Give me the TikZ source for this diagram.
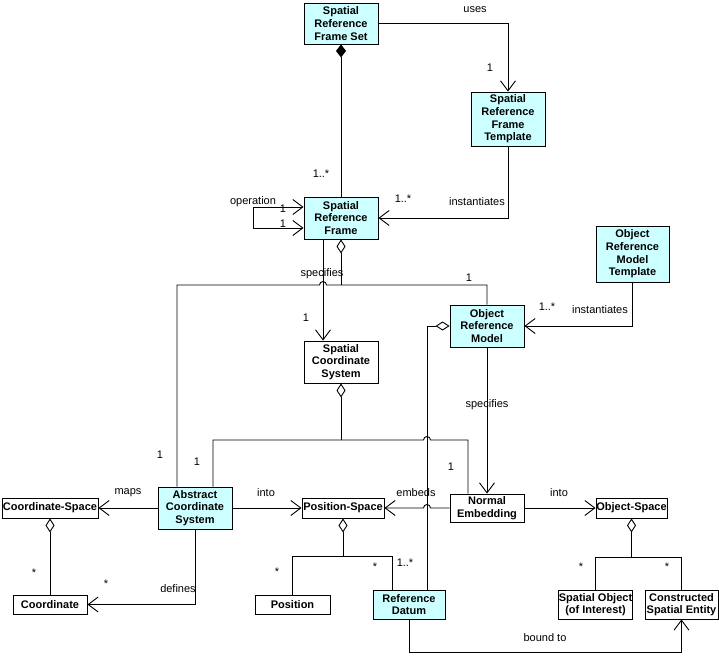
\documentclass[tikz,border=0pt]{standalone}
\usepackage{fontspec}
\setmainfont{Liberation Sans}
\usetikzlibrary{arrows.meta}
\definecolor{boxcyan}{RGB}{204,255,255}
\tikzset{
  vtip/.tip={Straight Barb[length=10pt,width=15pt]},
  cls/.style={draw, line width=0.9pt, inner sep=0pt, align=center, font=\fontsize{11}{12.7}\selectfont\bfseries},
  hi/.style={cls, fill=boxcyan},
  lbl/.style={inner sep=0pt, font=\fontsize{11}{12.7}\selectfont},
  arr/.style={-vtip},
  both/.style={vtip-vtip},
  odia/.style={{Diamond[fill=white,length=14pt,width=9pt]}-},
  fdia/.style={{Diamond[length=13pt,width=10pt]}-},
}
\begin{document}
\begin{tikzpicture}[x=1pt,y=-1pt,line width=0.9pt]
\useasboundingbox (0,0) rectangle (719,655);
% classes
\node[hi, minimum width=74pt, minimum height=41pt] (srfs) at (341,23.5) {Spatial\\Reference\\Frame Set};
\node[hi, minimum width=74pt, minimum height=54pt] (srft) at (508,119) {Spatial\\Reference\\Frame\\Template};
\node[hi, minimum width=74pt, minimum height=42pt] (srf) at (341,218) {Spatial\\Reference\\Frame};
\node[hi, minimum width=73pt, minimum height=56pt] (ormt) at (632.5,254) {Object\\Reference\\Model\\Template};
\node[hi, minimum width=74pt, minimum height=42pt] (orm) at (487,326) {Object\\Reference\\Model};
\node[cls, minimum width=74pt, minimum height=42pt] (scs) at (341,362) {Spatial\\Coordinate\\System};
\node[hi, minimum width=74pt, minimum height=42pt] (acs) at (195,508) {Abstract\\Coordinate\\System};
\node[cls, minimum width=96pt, minimum height=20pt] (cspace) at (50,508) {Coordinate-Space};
\node[cls, minimum width=74pt, minimum height=19pt] (coord) at (50,604.5) {Coordinate};
\node[cls, minimum width=82pt, minimum height=20pt] (pspace) at (343,508) {Position-Space};
\node[cls, minimum width=75pt, minimum height=19pt] (position) at (292.5,604.5) {Position};
\node[cls, minimum width=74pt, minimum height=28pt] (ne) at (487,508) {Normal\\Embedding};
\node[cls, minimum width=71pt, minimum height=20pt] (ospace) at (631.5,508) {Object-Space};
\node[hi, minimum width=72pt, minimum height=29pt] (rd) at (409,604.5) {Reference\\Datum};
\node[cls, minimum width=73pt, minimum height=29pt] (soi) at (595.5,604.5) {Spatial Object\\(of Interest)};
\node[cls, minimum width=73pt, minimum height=29pt] (cse) at (681.5,604.5) {Constructed\\Spatial Entity};
% connectors
\draw[fdia] (srfs.south) -- (srf.north);
\draw[arr] (srfs.east) -| (srft.north);
\draw[arr] (srft.south) |- (srf.east);
\draw[both] ([yshift=11pt]srf.west) -- (253,207) -- (253,228) -- ([yshift=-10pt]srf.west);
\draw[arr] ([xshift=-18pt]srf.south) -- ([xshift=-18pt]scs.north);
\draw[odia] (srf.south) -- (341,285);
\draw ([xshift=-18pt]acs.north) |- (319.5,285) arc[start angle=180,end angle=0,radius=3.5pt] -| (orm.north);
\draw[odia] (scs.south) -- (341,440);
\draw ([xshift=18pt]acs.north) |- (423.5,440) arc[start angle=180,end angle=0,radius=3.5pt] -| ([xshift=-19pt]ne.north);
\draw[odia] (orm.west) -| ([xshift=18pt]rd.north);
\draw[arr] (orm.south) -- (ne.north);
\draw[arr] (ormt.south) |- (orm.east);
\draw[arr] (acs.west) -- (cspace.east);
\draw[arr] (acs.east) -- (pspace.west);
\draw[arr] (acs.south) |- (coord.east);
\draw[odia] (cspace.south) -- (coord.north);
\draw[arr] (ne.west) -- (430.5,508) arc[start angle=0,end angle=180,radius=3.5pt] -- (pspace.east);
\draw[arr] (ne.east) -- (ospace.west);
\draw[odia] (pspace.south) -- (343,556);
\draw (position.north) |- (392,556) -- ([xshift=-17pt]rd.north);
\draw[odia] (ospace.south) -- (631.5,557);
\draw (soi.north) |- (681.5,557) -- (cse.north);
\draw[arr] (rd.south) |- (681.5,652) -- (cse.south);
% labels
\node[lbl] (l1) at (475,10) {uses};
\node[lbl] (l2) at (490,68) {1};
\node[lbl] (l3) at (321,174) {1..*};
\node[lbl] (l4) at (253,202) {operation};
\node[lbl] (l5) at (283,209) {1};
\node[lbl] (l6) at (283,224) {1};
\node[lbl] (l7) at (403,199) {1..*};
\node[lbl] (l8) at (477,202) {instantiates};
\node[lbl] (l9) at (322,274) {specifies};
\node[lbl] (l10) at (306,318) {1};
\node[lbl] (l11) at (469,278) {1};
\node[lbl] (l12) at (547,307) {1..*};
\node[lbl] (l13) at (600,310) {instantiates};
\node[lbl] (l14) at (487,405) {specifies};
\node[lbl] (l15) at (160,455) {1};
\node[lbl] (l16) at (197,462) {1};
\node[lbl] (l17) at (128,493) {maps};
\node[lbl] (l18) at (266,493) {into};
\node[lbl] (l19) at (34,573) {*};
\node[lbl] (l20) at (106,584) {*};
\node[lbl] (l21) at (178,589) {defines};
\node[lbl] (l22) at (277,572) {*};
\node[lbl] (l23) at (451,467) {1};
\node[lbl] (l24) at (416,493) {embeds};
\node[lbl] (l25) at (559,493) {into};
\node[lbl] (l26) at (375,567) {*};
\node[lbl] (l27) at (405,563) {1..*};
\node[lbl] (l28) at (581,567) {*};
\node[lbl] (l29) at (667,567) {*};
\node[lbl] (l30) at (545,638) {bound to};
\end{tikzpicture}
\end{document}
